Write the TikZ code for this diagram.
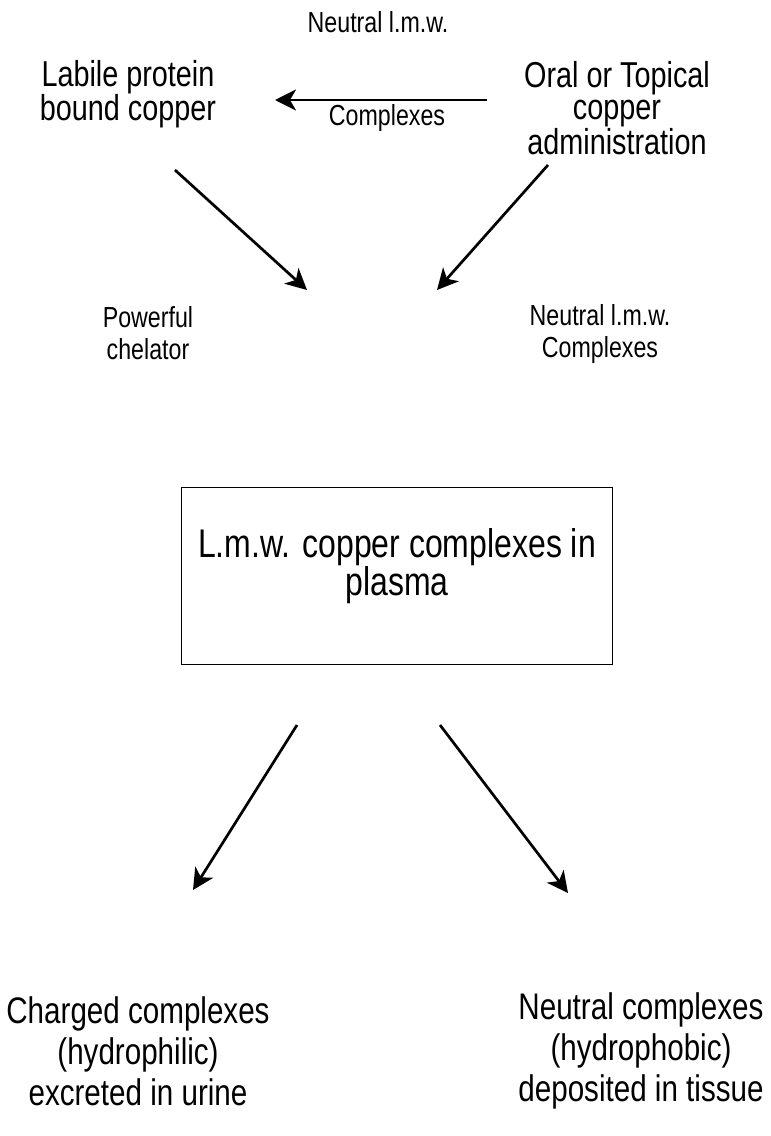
\documentclass[tikz,border=0pt]{standalone}
\usepackage{fontspec}
\setmainfont{Liberation Sans}[FakeStretch=0.8]
\usetikzlibrary{arrows.meta}

\begin{document}
\begin{tikzpicture}[x=1pt,y=-1pt,
  bigtxt/.style={font=\fontsize{36}{32}\selectfont,align=center,inner sep=0pt},
  lowtxt/.style={font=\fontsize{37}{41}\selectfont,align=center,inner sep=0pt},
  boxtxt/.style={font=\fontsize{40}{33}\selectfont,align=center,inner sep=0pt},
  smalltxt/.style={font=\fontsize{29}{32}\selectfont,align=center,inner sep=0pt},
  plasmabox/.style={draw,line width=1.6pt,minimum width=431pt,minimum height=177pt},
  flow/.style={line width=2.7pt,-{Stealth[length=21pt,width=21pt,inset=6pt]}}]
\useasboundingbox (0,0) rectangle (771,1136);

\node[bigtxt] (labile) at (128,94) {Labile protein\\bound copper};
\node[bigtxt] (oral) at (617,108) {Oral or Topical\\copper\\administration};
\node[smalltxt] (nlmwtop) at (378,22) {Neutral l.m.w.};
\node[smalltxt] (cplxtop) at (387,118) {Complexes};
\coordinate (h1) at (487,100);
\coordinate (h2) at (275,100);
\draw[flow] (h1) -- (h2);

\coordinate (a1) at (175,170);
\coordinate (a1e) at (307,290);
\coordinate (a2) at (548,165);
\coordinate (a2e) at (437,290);
\draw[flow] (a1) -- (a1e);
\draw[flow] (a2) -- (a2e);
\node[smalltxt] (chel) at (148,333) {Powerful\\chelator};
\node[smalltxt] (nlmwmid) at (600,334) {Neutral l.m.w.\\Complexes};

\node[plasmabox] (plasma) at (397,576) {};
\node[boxtxt] (plasmatxt) at (397,566) {L.m.w. copper complexes in\\plasma};

\coordinate (b1) at (297,725);
\coordinate (b1e) at (193,890);
\coordinate (b2) at (440,725);
\coordinate (b2e) at (568,893);
\draw[flow] (b1) -- (b1e);
\draw[flow] (b2) -- (b2e);

\node[lowtxt] (charged) at (138,1051) {Charged complexes\\(hydrophilic)\\excreted in urine};
\node[lowtxt] (neutral) at (641,1051) {Neutral complexes\\(hydrophobic)\\deposited in tissue};
\end{tikzpicture}
\end{document}
